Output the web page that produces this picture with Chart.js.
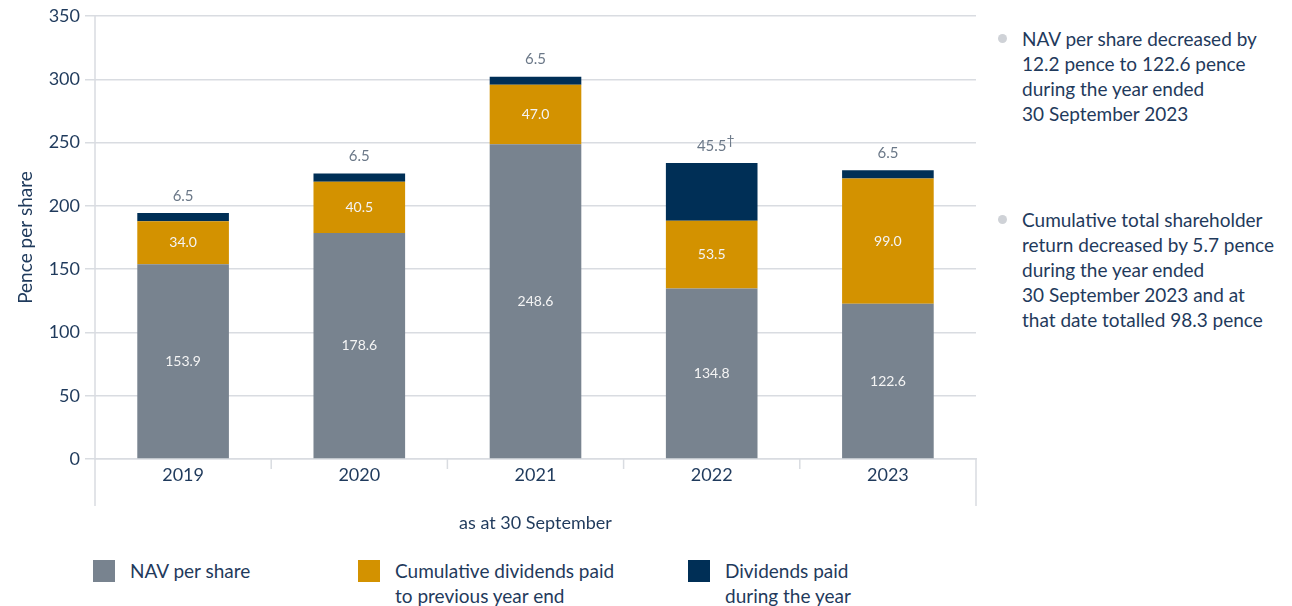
<!DOCTYPE html>
<html lang="en">
<head>
    <meta charset="UTF-8">
    <script src="https://cdn.jsdelivr.net/npm/chart.js"></script>
    <title>NAV per share and dividends</title>
    <style>
        body {
            margin: 0;
            background: #fff;
            font-family: 'Lato', 'Open Sans', sans-serif;
            color: #1f3a5c;
        }
        .wrap {
            position: relative;
            width: 1292px;
            height: 606px;
            overflow: hidden;
        }
        .chart-box {
            position: absolute;
            left: 0;
            top: 0;
            width: 1000px;
            height: 540px;
        }
        .notes {
            position: absolute;
            left: 1022px;
            width: 270px;
            font-size: 19px;
            line-height: 25px;
            color: #1f3a5c;
        }
        .notes::before {
            content: '';
            position: absolute;
            left: -24px;
            top: 8px;
            width: 9px;
            height: 9px;
            border-radius: 50%;
            background: #cfd2d7;
        }
        .legend-item {
            position: absolute;
            top: 558px;
            font-size: 19px;
            line-height: 25px;
            color: #1f3a5c;
        }
        .legend-item span {
            position: absolute;
            left: 0;
            top: 2px;
            width: 22px;
            height: 22px;
        }
        .legend-item div {
            margin-left: 37px;
            white-space: nowrap;
        }
    </style>
</head>
<body>
<div class="wrap">
    <div class="chart-box"><canvas id="myChart"></canvas></div>

    <div class="notes" style="top:26px;">NAV per share decreased by<br>12.2 pence to 122.6 pence<br>during the year ended<br>30 September 2023</div>
    <div class="notes" style="top:207px;">Cumulative total shareholder<br>return decreased by 5.7 pence<br>during the year ended<br>30 September 2023 and at<br>that date totalled 98.3 pence</div>

    <div class="legend-item" style="left:93px;"><span style="background:#78838f"></span><div>NAV per share</div></div>
    <div class="legend-item" style="left:358px;"><span style="background:#d39200"></span><div>Cumulative dividends paid<br>to previous year end</div></div>
    <div class="legend-item" style="left:688px;"><span style="background:#002f56"></span><div>Dividends paid<br>during the year</div></div>
</div>

<script>
    const years = ['2019', '2020', '2021', '2022', '2023'];
    const navPerShare = [153.9, 178.6, 248.6, 134.8, 122.6];
    const cumulativeDividends = [34.0, 40.5, 47.0, 53.5, 99.0];
    const dividendsInYear = [6.5, 6.5, 6.5, 45.5, 6.5];
    const footnoteMarks = ['', '', '', '\u2020', ''];
    const yTicks = [0, 50, 100, 150, 200, 250, 300, 350];

    const gridColour = '#d9dce1';
    const textColour = '#1f3a5c';

    // value labels: centred inside the lower two segments, above the top one
    const barLabels = {
        id: 'barLabels',
        afterDatasetsDraw(chart) {
            const ctx = chart.ctx;
            ctx.save();
            ctx.textAlign = 'center';
            ctx.textBaseline = 'middle';
            ctx.font = '14px Lato';
            [0, 1].forEach(d => {
                const meta = chart.getDatasetMeta(d);
                meta.data.forEach((bar, i) => {
                    ctx.fillStyle = '#f4f4f4';
                    ctx.fillText(chart.data.datasets[d].data[i].toFixed(1), bar.x, (bar.y + bar.base) / 2);
                });
            });
            const top = chart.getDatasetMeta(2);
            top.data.forEach((bar, i) => {
                const txt = dividendsInYear[i].toFixed(1);
                ctx.fillStyle = '#6b7888';
                ctx.font = '15px Lato';
                ctx.fillText(txt, bar.x, bar.y - 17);
                if (footnoteMarks[i]) {
                    const w = ctx.measureText(txt).width;
                    ctx.font = '14px Lato';
                    ctx.textAlign = 'left';
                    ctx.fillText(footnoteMarks[i], bar.x + w / 2, bar.y - 23);
                    ctx.textAlign = 'center';
                }
            });
            ctx.restore();
        }
    };

    // left/right frame lines below the axis and category separator ticks
    const axisFrame = {
        id: 'axisFrame',
        afterDraw(chart) {
            const ctx = chart.ctx;
            const area = chart.chartArea;
            const n = years.length;
            const step = (area.right - area.left) / n;
            ctx.save();
            ctx.strokeStyle = gridColour;
            ctx.lineWidth = 1.5;
            ctx.beginPath();
            ctx.moveTo(area.left, area.top);
            ctx.lineTo(area.left, area.bottom + 47);
            ctx.moveTo(area.right, area.bottom);
            ctx.lineTo(area.right, area.bottom + 47);
            for (let i = 1; i < n; i++) {
                const x = area.left + step * i;
                ctx.moveTo(x, area.bottom);
                ctx.lineTo(x, area.bottom + 10);
            }
            ctx.stroke();
            ctx.restore();
        }
    };

    const chartData = {
        labels: years,
        datasets: [
            {
                label: 'NAV per share',
                data: navPerShare,
                backgroundColor: '#78838f'
            },
            {
                label: 'Cumulative dividends paid to previous year end',
                data: cumulativeDividends,
                backgroundColor: '#d39200'
            },
            {
                label: 'Dividends paid during the year',
                data: dividendsInYear,
                backgroundColor: '#002f56'
            }
        ]
    };

    const chartConfig = {
        type: 'bar',
        data: chartData,
        options: {
            responsive: true,
            maintainAspectRatio: false,
            animation: false,
            barPercentage: 0.52,
            categoryPercentage: 1,
            layout: {
                padding: { top: 16, right: 24, left: 0, bottom: 0 }
            },
            plugins: {
                legend: { display: false },
                tooltip: { enabled: false }
            },
            scales: {
                x: {
                    stacked: true,
                    grid: { display: false },
                    border: { display: true, color: gridColour, width: 1.5 },
                    ticks: {
                        color: textColour,
                        font: { family: 'Lato', size: 18 },
                        padding: -3
                    },
                    title: {
                        display: true,
                        text: 'as at 30 September',
                        color: textColour,
                        font: { family: 'Lato', size: 18 },
                        padding: { top: 0, bottom: 6 }
                    },
                    afterFit(axis) { axis.height = 81; }
                },
                y: {
                    stacked: true,
                    min: 0,
                    max: 350,
                    afterBuildTicks(axis) {
                        axis.ticks = yTicks.map(v => ({ value: v }));
                    },
                    grid: {
                        color: gridColour,
                        lineWidth: 1.5,
                        tickLength: 10
                    },
                    border: { display: false },
                    ticks: {
                        color: textColour,
                        font: { family: 'Lato', size: 18 },
                        padding: 5
                    },
                    title: {
                        display: true,
                        text: 'Pence per share',
                        color: textColour,
                        font: { family: 'Lato', size: 19 },
                        padding: { top: 14, bottom: 0 }
                    },
                    afterFit(axis) { axis.width = 95; }
                }
            }
        },
        plugins: [barLabels, axisFrame]
    };

    new Chart(document.getElementById('myChart'), chartConfig);
</script>
</body>
</html>
